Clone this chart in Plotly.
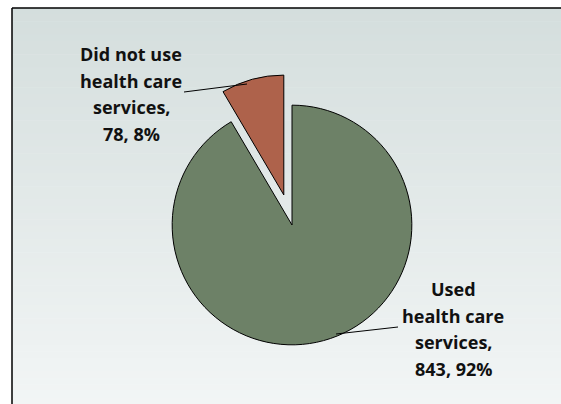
import plotly.graph_objects as go

# ---- data ----
categories = ["Used health care services", "Did not use health care services"]
counts = [843, 78]
percents = ["92%", "8%"]
label_lines = [
    ["Used", "health care", "services,", "843, 92%"],
    ["Did not use", "health care", "services,", "78, 8%"],
]

# ---- style ----
W, H = 561, 404
slice_colors = ["#6d8167", "#ae624b"]
pulls = [0, 0.26]

def px(x):
    return x / W

def py(y):
    return 1 - y / H

fig = go.Figure()
fig.add_trace(go.Pie(
    labels=categories,
    values=counts,
    sort=False,
    direction="clockwise",
    rotation=0,
    pull=pulls,
    marker=dict(colors=slice_colors, line=dict(color="#000000", width=1)),
    textinfo="none",
    hoverinfo="label+value+percent",
    showlegend=False,
    domain=dict(x=[px(141), px(443)], y=[py(376), py(74)]),
))

shapes = []
# gradient background inside the frame
top_rgb = (0xD4, 0xDE, 0xDD)
bot_rgb = (0xF2, 0xF5, 0xF5)
n_bands = 60
y_start, y_end = 8, H
for i in range(n_bands):
    t = i / (n_bands - 1)
    c = tuple(round(a + (b - a) * t) for a, b in zip(top_rgb, bot_rgb))
    y0 = y_start + (y_end - y_start) * i / n_bands
    y1 = y_start + (y_end - y_start) * (i + 1) / n_bands + 0.5
    shapes.append(dict(type="rect", xref="paper", yref="paper",
                       x0=px(12), x1=1, y0=py(y1), y1=py(y0),
                       fillcolor="rgb(%d,%d,%d)" % c, line=dict(width=0),
                       layer="below"))
# frame (top and left edges visible)
shapes.append(dict(type="line", xref="paper", yref="paper",
                   x0=px(12), x1=1, y0=py(8), y1=py(8),
                   line=dict(color="#000000", width=1.5)))
shapes.append(dict(type="line", xref="paper", yref="paper",
                   x0=px(12), x1=px(12), y0=py(8), y1=0,
                   line=dict(color="#000000", width=1.5)))
# leader lines
shapes.append(dict(type="line", xref="paper", yref="paper",
                   x0=px(184), y0=py(92), x1=px(247), y1=py(84),
                   line=dict(color="#000000", width=1)))
shapes.append(dict(type="line", xref="paper", yref="paper",
                   x0=px(398), y0=py(327), x1=px(336), y1=py(334),
                   line=dict(color="#000000", width=1)))

annotations = []
label_centers = [(453, 289), (131, 54)]
line_gap = 26.7
for lines, (cx, cy) in zip(label_lines, label_centers):
    for k, txt in enumerate(lines):
        annotations.append(dict(
            x=px(cx), y=py(cy + k * line_gap), xref="paper", yref="paper",
            text="<b>%s</b>" % txt, showarrow=False,
            xanchor="center", yanchor="middle",
            font=dict(family="Open Sans", size=18, color="#111111"),
        ))

fig.update_layout(
    width=W, height=H,
    margin=dict(l=0, r=0, t=0, b=0),
    paper_bgcolor="#ffffff",
    plot_bgcolor="#ffffff",
    shapes=shapes,
    annotations=annotations,
)

fig.write_html(
    "out.html",
    config={"displayModeBar": False},
    post_script="document.body.style.margin='0px';document.body.style.overflow='hidden';",
)
